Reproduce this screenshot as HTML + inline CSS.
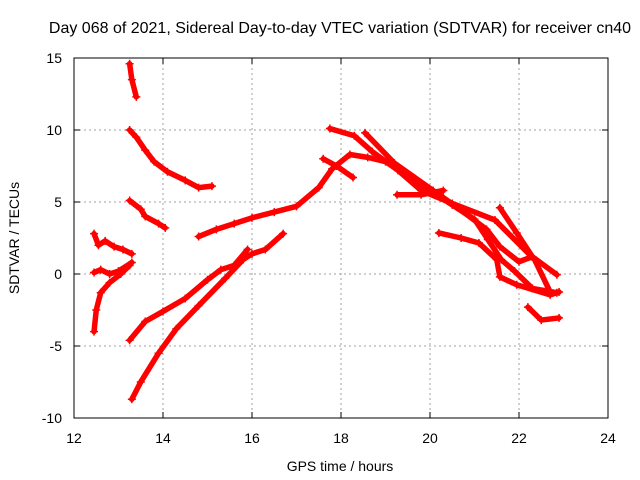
<!DOCTYPE html>
<html><head><meta charset="utf-8"><style>
body{margin:0;background:#fff}
svg{display:block;font-family:"Liberation Sans",sans-serif;font-size:14px}
</style></head><body>
<svg id="chart" width="640" height="480" viewBox="0 0 640 480" xmlns="http://www.w3.org/2000/svg">
<rect width="640" height="480" fill="#fff"/>
<text x="340" y="33" text-anchor="middle" style="font-size:16px">Day 068 of 2021, Sidereal Day-to-day VTEC variation (SDTVAR) for receiver cn40</text>
<g id="grid"></g>
<g id="axes"></g>
<g id="marks"></g>
<rect x="74" y="58" width="534" height="360" fill="none" stroke="#000" stroke-width="1"/>
<text x="340" y="471" text-anchor="middle">GPS time / hours</text>
<text transform="translate(19,238) rotate(-90)" text-anchor="middle">SDTVAR / TECUs</text>
</svg>
<script>
const xTicks=[12,14,16,18,20,22,24];
const yTicks=[-10,-5,0,5,10,15];
const trackA=[[13.25,14.6],[13.3,13.5],[13.4,12.3]];
const trackB=[[13.25,10],[13.4,9.5],[13.6,8.6],[13.8,7.8],[14.1,7.1],[14.5,6.5],[14.8,6.0],[15.1,6.1]];
const trackC=[[13.25,5.1],[13.5,4.5],[13.6,4.0],[13.9,3.5],[14.05,3.2]];
const trackD=[[12.45,2.8],[12.55,2.0],[12.7,2.3],[12.9,1.9],[13.1,1.7],[13.3,1.4]];
const trackE=[[12.45,0.1],[12.6,0.3],[12.8,0.0],[13.0,0.2],[13.3,0.8]];
const trackE2=[[12.45,-4.0],[12.5,-2.5],[12.6,-1.3],[12.8,-0.6],[13.05,0.0],[13.25,0.6]];
const trackF=[[13.25,-4.6],[13.6,-3.3],[14.0,-2.6],[14.5,-1.7],[15.0,-0.4],[15.3,0.3],[15.6,0.6],[15.9,1.7]];
const trackG=[[13.3,-8.7],[13.5,-7.5],[13.9,-5.5],[14.3,-3.8],[14.8,-2.2],[15.4,-0.3],[15.8,1.0],[16.0,1.4],[16.3,1.7],[16.7,2.8]];
const trackH=[[14.8,2.6],[15.2,3.1],[15.6,3.5],[16,3.9],[16.5,4.3],[17,4.7],[17.5,6.0],[17.8,7.3],[18.2,8.3],[18.6,8.1],[19,7.8],[19.5,6.8],[20,5.8],[20.5,4.8],[21,3.8],[21.3,2.4],[21.6,1.0],[21.9,0.2],[22.3,-1.0],[22.85,-1.3]];
const trackI=[[17.6,8.0],[17.9,7.5],[18.27,6.7]];
const trackJ=[[17.75,10.1],[18.3,9.6],[18.7,8.5],[19.28,7.2],[19.8,5.8],[20.5,4.9],[21.46,3.75],[22.35,1.0],[22.7,-1.25]];
const trackK=[[18.54,9.8],[19.2,7.7],[20.07,5.8],[20.6,4.65],[21.27,3.1],[21.57,1.9],[22.0,0.85],[22.3,1.2]];
const trackL=[[21.57,4.6],[21.95,2.85],[22.3,1.2],[22.85,-0.05]];
const trackM=[[19.26,5.5],[19.8,5.5],[20.3,5.8]];
const trackN=[[20.2,2.85],[20.7,2.5],[21.1,2.15],[21.5,1.0],[21.57,-0.2],[21.95,-0.75],[22.7,-1.45],[22.9,-1.25]];
const trackO=[[22.2,-2.3],[22.5,-3.2],[22.9,-3.05]];
const tracks=[trackA,trackB,trackC,trackD,trackE,trackE2,trackF,trackG,trackH,trackI,trackJ,trackK,trackL,trackM,trackN,trackO];
const NS="http://www.w3.org/2000/svg";
const X0=74,X1=608,Y0=418,Y1=58;
const xs=t=>X0+(t-12)/(24-12)*(X1-X0);
const ys=v=>Y0-(v+10)/25*(Y0-Y1);
const grid=document.getElementById('grid'),axes=document.getElementById('axes'),marks=document.getElementById('marks');
function mk(tag,at,parent){const e=document.createElementNS(NS,tag);for(const k in at)e.setAttribute(k,at[k]);parent.appendChild(e);return e;}
xTicks.forEach(t=>{const x=xs(t);
 if(t>12&&t<24){const g=mk('line',{x1:x,x2:x,y1:Y1,y2:Y0,stroke:'#a0a0a0','stroke-dasharray':'2,3'},grid);
 
 }
 mk('line',{x1:x,x2:x,y1:Y0,y2:Y0-6,stroke:'#000'},axes);mk('line',{x1:x,x2:x,y1:Y1,y2:Y1+6,stroke:'#000'},axes);
 const l=mk('text',{x:x,y:Y0+25,'text-anchor':'middle'},axes);l.textContent=t;
 
 });
yTicks.forEach(v=>{const y=ys(v);
 if(v>-10&&v<15){const g=mk('line',{x1:X0,x2:X1,y1:y,y2:y,stroke:'#a0a0a0','stroke-dasharray':'2,3'},grid);
 
 }
 mk('line',{x1:X0,x2:X0+6,y1:y,y2:y,stroke:'#000'},axes);mk('line',{x1:X1,x2:X1-6,y1:y,y2:y,stroke:'#000'},axes);
 const l=mk('text',{x:X0-12,y:y+5,'text-anchor':'end'},axes);l.textContent=v;
 
 });
tracks.forEach((tr,i)=>{
 const p=mk('polyline',{points:tr.map(d=>xs(d[0])+','+ys(d[1])).join(' '),fill:'none',stroke:'#f00','stroke-width':5.5,'stroke-linejoin':'round','stroke-linecap':'round'},marks);
 
 
 tr.forEach(d=>{const x=xs(d[0]),y=ys(d[1]);
  const m=mk('path',{d:`M${x-4},${y}H${x+4}M${x},${y-4}V${y+4}`,stroke:'#f00','stroke-width':1.5},marks);
  
  });
});
</script>
</body></html>
